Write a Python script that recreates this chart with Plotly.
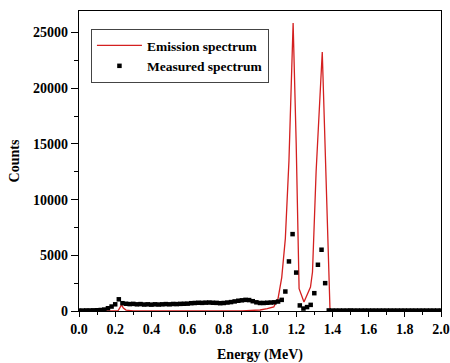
import plotly.graph_objects as go

# Emission spectrum (red line)
emis_energy = [0.00, 0.20, 0.215, 0.235, 0.245, 0.26, 0.28, 0.30, 0.90, 0.96, 1.00,
               1.04, 1.076, 1.10, 1.12, 1.14, 1.16, 1.183, 1.20, 1.216, 1.243, 1.279,
               1.29, 1.31, 1.344, 1.387, 1.46, 1.50, 1.55, 2.00]
emis_counts = [0, 0, 0, 550, 260, 80, 10, 0, 0, 20, 90,
               215, 360, 1150, 3000, 6500, 13500, 25850, 15000, 2000, 800, 2150,
               3500, 12500, 23250, 0, 0, 120, 0, 0]

# Measured spectrum (black squares), 0.02 MeV bins
meas_energy = [0.00, 0.02, 0.04, 0.06, 0.08, 0.10, 0.12, 0.14, 0.16, 0.18,
               0.20, 0.22, 0.24, 0.26, 0.28, 0.30, 0.32, 0.34, 0.36, 0.38,
               0.40, 0.42, 0.44, 0.46, 0.48, 0.50, 0.52, 0.54, 0.56, 0.58,
               0.60, 0.62, 0.64, 0.66, 0.68, 0.70, 0.72, 0.74, 0.76, 0.78,
               0.80, 0.82, 0.84, 0.86, 0.88, 0.90, 0.92, 0.94, 0.96, 0.98,
               1.00, 1.02, 1.04, 1.06, 1.08, 1.10, 1.12, 1.14, 1.16, 1.18,
               1.20, 1.22, 1.24, 1.26, 1.28, 1.30, 1.32, 1.34, 1.36, 1.38,
               1.40, 1.42, 1.44, 1.46, 1.48, 1.50, 1.52, 1.54, 1.56, 1.58,
               1.60, 1.62, 1.64, 1.66, 1.68, 1.70, 1.72, 1.74, 1.76, 1.78,
               1.80, 1.82, 1.84, 1.86, 1.88, 1.90, 1.92, 1.94, 1.96, 1.98, 2.00]
meas_counts = [40, 40, 50, 50, 60, 70, 90, 130, 250, 400,
               600, 1050, 700, 650, 620, 640, 600, 620, 580, 600,
               570, 600, 580, 600, 620, 600, 630, 620, 640, 650,
               660, 700, 720, 740, 730, 750, 760, 740, 730, 700,
               720, 760, 800, 860, 920, 960, 1000, 980, 880, 780,
               720, 720, 740, 760, 780, 850, 1000, 1750, 4450, 6900,
               3450, 500, 220, 350, 550, 1600, 4150, 5500, 2500, 50,
               40, 40, 40, 40, 40, 50, 40, 40, 40, 40,
               40, 40, 40, 40, 40, 40, 40, 40, 40, 40,
               40, 40, 40, 40, 40, 40, 40, 40, 40, 40, 40]

x_ticks = [0.0, 0.2, 0.4, 0.6, 0.8, 1.0, 1.2, 1.4, 1.6, 1.8, 2.0]
y_ticks = [0, 5000, 10000, 15000, 20000, 25000]

FONT = "Liberation Serif"

fig = go.Figure()
fig.add_trace(go.Scatter(
    x=emis_energy, y=emis_counts, mode="lines", name="Emission spectrum",
    line=dict(color="#d42020", width=1.3)))
fig.add_trace(go.Scatter(
    x=meas_energy, y=meas_counts, mode="markers", name="Measured spectrum",
    marker=dict(symbol="square", size=4.5, color="black")))

axis_common = dict(
    showline=True, linecolor="black", linewidth=1.3, mirror=True,
    ticks="outside", tickcolor="black", tickwidth=1.2,
    showgrid=False, zeroline=False, automargin=False,
    ticklabeloverflow="allow",
    tickfont=dict(family=FONT, size=14, color="black", weight="bold"),
)

fig.update_xaxes(
    range=[0, 2.0], tickvals=x_ticks, tickformat=".1f", ticklen=5,
    minor=dict(ticks="outside", dtick=0.1, ticklen=3, tickcolor="black", tickwidth=1),
    title=dict(text="Energy (MeV)", font=dict(family=FONT, size=14, color="black", weight="bold"),
               standoff=14),
    **axis_common)
fig.update_yaxes(
    range=[0, 26930], tickvals=y_ticks, tickformat="d", ticklen=7,
    minor=dict(ticks="outside", dtick=2500, ticklen=4, tickcolor="black", tickwidth=1),
    title=dict(text="Counts", font=dict(family=FONT, size=14, color="black", weight="bold"),
               standoff=10),
    **axis_common)

fig.update_layout(
    width=450, height=363,
    margin=dict(l=79, r=9, t=11, b=52),
    paper_bgcolor="white", plot_bgcolor="white",
    showlegend=True,
    legend=dict(x=0.033, y=0.94, xanchor="left", yanchor="top",
                bordercolor="#444", borderwidth=1, bgcolor="white",
                font=dict(family=FONT, size=13.5, color="black", weight="bold"),
                tracegroupgap=0, itemwidth=45, entrywidth=185, entrywidthmode="pixels"),
)

fig.write_html("out.html", config={"displayModeBar": False},
               post_script="document.body.style.margin='0px';")
